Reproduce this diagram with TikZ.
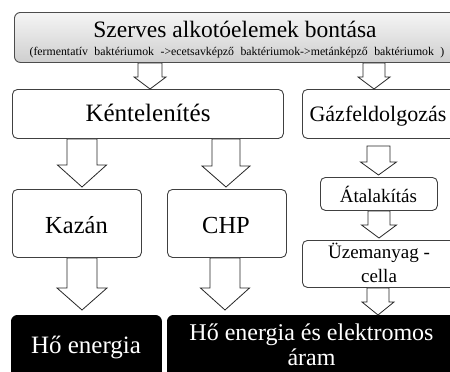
\documentclass[tikz,border=0pt]{standalone}
\usepackage{fontspec}
\setmainfont{Liberation Serif}
\usetikzlibrary{calc}
\tikzset{
  box/.style={draw=black!75, line width=0.9pt, rounded corners=5pt, fill=white},
  topbox/.style={draw=black!70, line width=0.9pt, rounded corners=6pt, top color=gray!8, bottom color=gray!38},
  darkbox/.style={draw=black, line width=0.9pt, fill=black, rounded corners=6pt},
  barr/.style={draw=black!85, line width=0.8pt, fill=white, line join=miter},
  txt/.style={inner sep=0pt, outer sep=0pt, anchor=base, align=center},
  wtxt/.style={txt, text=white},
}
\newcommand\boxnode[6]{\node[#1, anchor=north west, inner sep=0pt, minimum width={(#5-#3)*1pt}, minimum height={(#6-#4)*1pt}] (#2) at (#3,#4) {};}
% x, from, to, shaft half, head half, head length, start gap, end gap
\newcommand\barrow[8]{%
  \path[barr] let \p1=(#2.south), \p2=(#3.north) in
  ({#1pt-#4pt},{\y1-#7pt}) -- ({#1pt-#4pt},{\y2+#8pt+#6pt}) -- ({#1pt-#5pt},{\y2+#8pt+#6pt}) --
  ({#1pt},{\y2+#8pt}) -- ({#1pt+#5pt},{\y2+#8pt+#6pt}) -- ({#1pt+#4pt},{\y2+#8pt+#6pt}) --
  ({#1pt+#4pt},{\y1-#7pt}) -- cycle;}
\begin{document}
\begin{tikzpicture}[x=1pt, y=-1pt]
\useasboundingbox (0,0) rectangle (450,372);
\clip (0,0) rectangle (450,372);
% boxes
\boxnode{topbox}{top}{14}{12}{457}{62}
\boxnode{box}{kent}{12}{89}{283}{138}
\boxnode{box}{gaz}{302}{89}{457}{138}
\boxnode{box}{kazan}{12}{189}{141}{257}
\boxnode{box}{chp}{167}{189}{286}{257}
\boxnode{box}{atal}{320}{177}{437}{210}
\boxnode{box}{uzem}{302}{240}{457}{287}
\boxnode{darkbox}{ho}{11}{315}{161}{385}
\boxnode{darkbox}{hoel}{167}{315}{460}{385}
% texts
\node[txt, font=\fontsize{23.5}{25}\selectfont] (ttitle) at (235,37) {Szerves alkotóelemek bontása};
\node[txt, font=\fontsize{11.8}{13}\selectfont] (tsub) at (237,55) {\spaceskip=6.5pt\relax(fermentatív baktériumok ->ecetsavképző baktériumok->metánképző baktériumok )};
\node[txt, font=\fontsize{25}{27}\selectfont] (tkent) at (148,121) {Kéntelenítés};
\node[txt, font=\fontsize{22}{24}\selectfont] (tgaz) at (378,121) {Gázfeldolgozás};
\node[txt, font=\fontsize{24.5}{26}\selectfont] (tkazan) at (76.5,233) {Kazán};
\node[txt, font=\fontsize{24.5}{26}\selectfont] (tchp) at (226,233) {CHP};
\node[txt, font=\fontsize{19}{20}\selectfont] (tatal) at (378.5,202) {Átalakítás};
\node[txt, font=\fontsize{19}{24}\selectfont] (tuzem) at (379,282) {Üzemanyag -\\cella};
\node[wtxt, font=\fontsize{25}{27}\selectfont] (tho) at (86,353) {Hő energia};
\node[wtxt, font=\fontsize{24}{25}\selectfont] (thoel) at (311.5,365) {Hő energia és elektromos\\áram};
% arrows
\barrow{150}{top}{kent}{12}{16}{12}{0}{0}
\barrow{374}{top}{gaz}{11}{16}{12}{0}{0}
\barrow{82}{kent}{kazan}{15}{24.5}{22}{0}{2}
\barrow{226}{kent}{chp}{14}{24}{21}{0}{2}
\barrow{378.5}{gaz}{atal}{11.5}{18}{13}{7}{2}
\barrow{379}{atal}{uzem}{11}{17.5}{13}{0}{2}
\barrow{82}{kazan}{ho}{15}{25}{22}{0}{5}
\barrow{225}{chp}{hoel}{15}{24.5}{22}{0}{5}
\barrow{378}{uzem}{hoel}{11}{16}{13}{0}{0}
\end{tikzpicture}
\end{document}
